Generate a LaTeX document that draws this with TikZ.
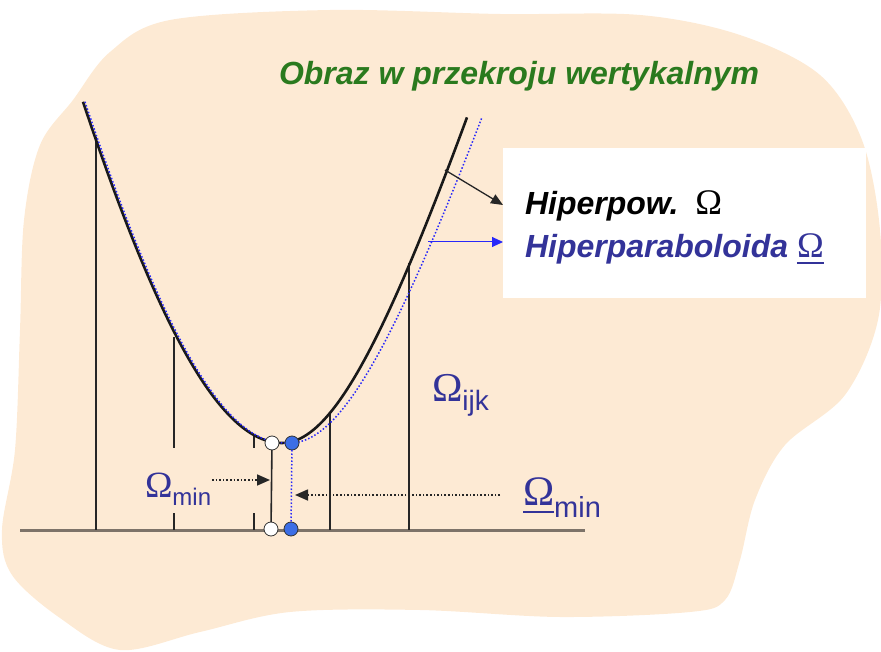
\documentclass[tikz,border=0pt]{standalone}
\usepackage{fontspec}
\setmainfont{Liberation Sans}
\newfontfamily\omegafont{Liberation Serif}
\usetikzlibrary{arrows.meta}

\definecolor{peach}{RGB}{253,234,212}
\definecolor{omegablue}{RGB}{51,51,153}
\definecolor{titlegreen}{RGB}{42,122,30}
\definecolor{curveblue}{RGB}{40,40,250}
\definecolor{dotblue}{RGB}{60,110,230}
\definecolor{axisgray}{RGB}{125,115,105}

\newcommand{\omg}[1]{{\omegafont\fontsize{#1}{#1}\selectfont\upshape\mdseries Ω}}

\begin{document}
\begin{tikzpicture}[x=1pt,y=-1pt]
\tikzstyle{every node}+=[inner sep=0pt, outer sep=0pt]
\tikzstyle{guide}=[line width=1.1pt, black!85]
\tikzstyle{lbl}=[text=omegablue, anchor=base west]
\tikzstyle{ring}=[circle, draw=black!80, line width=0.8pt, minimum size=14pt]
\tikzstyle{ptr}=[dotted, line width=1.6pt, black!85, -{Triangle[length=13pt,width=11pt]}]

\useasboundingbox (0,0) rectangle (881,652);

% tlo
\fill[peach] plot[smooth cycle, tension=0.55] coordinates {
  (73,100) (110,52) (170,20) (330,10) (500,14) (640,15) (740,35) (820,75)
  (862,140) (880,230) (878,320) (845,395) (785,445) (755,500) (740,560)
  (725,600) (690,612) (560,617) (420,610) (290,612) (200,632) (120,650)
  (60,618) (12,575) (2,530) (15,450) (20,330) (24,220) (40,145)};

\node[fill=white, anchor=north west, minimum width=363pt, minimum height=150pt] (legend) at (503,148) {};

% os
\draw[axisgray, line width=3pt] (20,530) -- (585,530);

% piony
\draw[guide] (96,137) -- (96,530);
\draw[guide] (174,337) -- (174,448) (174,513) -- (174,530);
\draw[guide] (254,436) -- (254,448) (254,513) -- (254,530);
\draw[guide] (330,413) -- (330,530);
\draw[guide] (409,263) -- (409,530);

% krzywe
\draw[black!90, line width=2.6pt]
  plot[domain=83:282, samples=60] (\x, {1453 - 100*sqrt(10.1*10.1 + (0.0451*(\x-282))^2)})
  -- plot[domain=282:467, samples=60] (\x, {825 - 100*sqrt(3.82*3.82 + (0.0322*(\x-282))^2)});
\draw[curveblue, dotted, line width=1.5pt]
  plot[domain=85:284, samples=60] (\x, {1453 - 100*sqrt(10.1*10.1 + (0.0451*(\x-284))^2)})
  -- plot[domain=290:482, samples=60] (\x, {803 - 100*sqrt(3.6*3.6 + (0.0304*(\x-290))^2)});

% punkty
\node[ring, fill=white] (wtop) at (272,443) {};
\node[ring, fill=dotblue] (btop) at (292,443) {};
\node[ring, fill=white] (wbot) at (271,529) {};
\node[ring, fill=dotblue] (bbot) at (291,529) {};
\draw[black!85, line width=1.6pt] (wtop) -- (wbot);
\draw[curveblue, dotted, line width=1.5pt] (btop) -- (bbot);

% napisy
\node[anchor=base west, text=titlegreen, font=\fontsize{32}{36}\selectfont\bfseries\itshape] (title) at (279,85) {Obraz w przekroju wertykalnym};
\node[anchor=base west, font=\fontsize{32}{38}\selectfont\bfseries\itshape] (hp) at (525,215) {Hiperpow.\hspace{17pt}\omg{36}};
\node[anchor=base west, text=omegablue, font=\fontsize{32}{38}\selectfont\bfseries\itshape] (hb) at (525,258) {Hiperparaboloida \omg{36}\llap{\rule[-6pt]{27pt}{1.8pt}}};

\node[lbl] (omin) at (145,497) {\omg{37}\raisebox{-8pt}{\fontsize{24}{24}\selectfont min}};
\node[lbl] (oijk) at (432,401) {\omg{41}\raisebox{-9pt}{\fontsize{28}{28}\selectfont ijk}};
\node[lbl] (ominbar) at (523,505) {\omg{42}\llap{\rule[-8pt]{31pt}{1.8pt}}\raisebox{-12pt}{\fontsize{29}{29}\selectfont min}};

% strzalki
\coordinate (hpfoot) at (445,170);
\coordinate (hptip) at (503,205);
\coordinate (hbfoot) at (428,242);
\coordinate (hbtip) at (503,242);
\draw[black!85, line width=1.3pt, -{Triangle[length=12pt,width=10pt]}] (hpfoot) -- (hptip);
\draw[curveblue, line width=1pt, -{Triangle[length=11pt,width=10pt]}] (hbfoot) -- (hbtip);

\coordinate (lstart) at (212,480);
\coordinate (ltip) at (270,480);
\coordinate (rstart) at (500,495);
\coordinate (rtip) at (295,495);
\draw[ptr] (lstart) -- (ltip);
\draw[ptr] (rstart) -- (rtip);
\end{tikzpicture}
\end{document}
